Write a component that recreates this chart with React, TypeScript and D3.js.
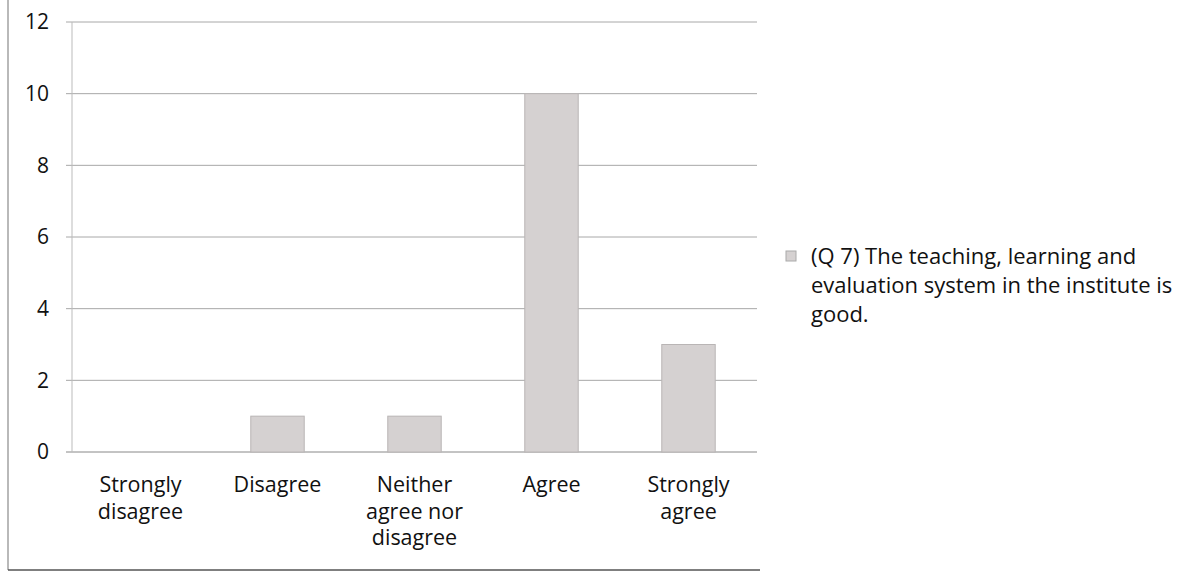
import React from "react";
import * as d3 from "d3";

const categories: string[][] = [
  ["Strongly", "disagree"],
  ["Disagree"],
  ["Neither", "agree nor", "disagree"],
  ["Agree"],
  ["Strongly", "agree"],
];
const values: number[] = [0, 1, 1, 10, 3];
const yTicks: number[] = [0, 2, 4, 6, 8, 10, 12];
const legendLines: string[] = [
  "(Q 7) The teaching, learning and",
  "evaluation system in the institute is",
  "good.",
];

export default function App() {
  const W = 1195, H = 578;
  const left = 72, right = 757, top = 22, bottom = 452;
  const x = d3.scaleBand<number>().domain(d3.range(categories.length)).range([left, right]).paddingInner(0.61).paddingOuter(0.305);
  const y = d3.scaleLinear().domain([0, 12]).range([bottom, top]);
  const font = "'Open Sans', 'DejaVu Sans', sans-serif";
  return (
    <svg width={W} height={H} style={{ position: "absolute", left: 0, top: 0, background: "#fff" }}>
      <rect x={0} y={0} width={W} height={H} fill="#fff" />
      {/* chart border (left & bottom) */}
      <line x1={8} y1={0} x2={8} y2={570} stroke="#8a8a8a" strokeWidth={1.2} />
      <line x1={8} y1={570} x2={760} y2={570} stroke="#555" strokeWidth={1.5} />
      {/* gridlines */}
      {yTicks.map((t) => (
        <g key={t}>
          <line x1={left - 6} x2={right} y1={y(t)} y2={y(t)} stroke={t === 0 ? "#888" : "#a8a8a8"} strokeWidth={1} />
          <text x={49} y={y(t)} dy="0.35em" textAnchor="end" fontFamily={font} fontSize={21} fill="#111">{t}</text>
        </g>
      ))}
      <line x1={left} x2={left} y1={top} y2={bottom} stroke="#bbb" strokeWidth={1} />
      {/* bars */}
      {values.map((v, i) => (
        <rect key={i} x={x(i)} y={y(v)} width={x.bandwidth()} height={bottom - y(v)} fill="#d5d1d1" stroke="#b9b5b5" strokeWidth={1} />
      ))}
      {/* category labels */}
      {categories.map((lines, i) => (
        <text key={i} textAnchor="middle" fontFamily={font} fontSize={21.5} fill="#111">
          {lines.map((l, j) => (
            <tspan key={j} x={(x(i) as number) + x.bandwidth() / 2} y={492 + j * 26.5}>{l}</tspan>
          ))}
        </text>
      ))}
      {/* legend */}
      <rect x={786} y={251} width={10} height={10} fill="#d5d1d1" stroke="#aaa" strokeWidth={1} />
      <text fontFamily={font} fontSize={22} fill="#111">
        {legendLines.map((l, j) => (
          <tspan key={j} x={811} y={264 + j * 29}>{l}</tspan>
        ))}
      </text>
    </svg>
  );
}
